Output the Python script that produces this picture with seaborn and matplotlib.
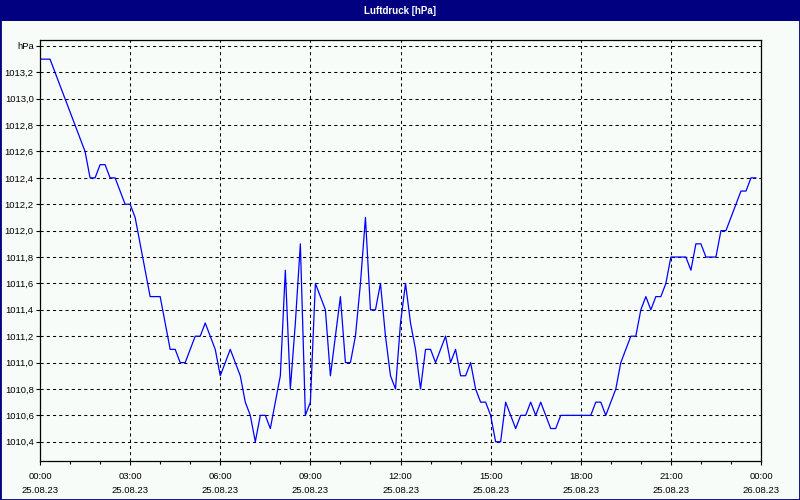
import numpy as np
import pandas as pd
import matplotlib
matplotlib.use("Agg")
import matplotlib.pyplot as plt
import matplotlib.dates as mdates
from matplotlib.patches import Rectangle
from matplotlib.ticker import FixedLocator, FixedFormatter
import seaborn as sns

# ---- data -------------------------------------------------------------
title_text = "Luftdruck [hPa]"
unit_label = "hPa"
start_time = "2023-08-25 00:00"
end_time = "2023-08-26 00:00"
sample_freq = "10min"

pressure_hpa = [
    1013.3, 1013.3, 1013.3, 1013.2, 1013.1, 1013.0, 1012.9, 1012.8, 1012.7, 1012.6,
    1012.4, 1012.4, 1012.5, 1012.5, 1012.4, 1012.4, 1012.3, 1012.2, 1012.2, 1012.1,
    1011.9, 1011.7, 1011.5, 1011.5, 1011.5, 1011.3, 1011.1, 1011.1, 1011.0, 1011.0,
    1011.1, 1011.2, 1011.2, 1011.3, 1011.2, 1011.1, 1010.9, 1011.0, 1011.1, 1011.0,
    1010.9, 1010.7, 1010.6, 1010.4, 1010.6, 1010.6, 1010.5, 1010.7, 1010.9, 1011.7,
    1010.8, 1011.3, 1011.9, 1010.6, 1010.7, 1011.6, 1011.5, 1011.4, 1010.9, 1011.2,
    1011.5, 1011.0, 1011.0, 1011.2, 1011.6, 1012.1, 1011.4, 1011.4, 1011.6, 1011.2,
    1010.9, 1010.8, 1011.3, 1011.6, 1011.3, 1011.1, 1010.8, 1011.1, 1011.1, 1011.0,
    1011.1, 1011.2, 1011.0, 1011.1, 1010.9, 1010.9, 1011.0, 1010.8, 1010.7, 1010.7,
    1010.6, 1010.4, 1010.4, 1010.7, 1010.6, 1010.5, 1010.6, 1010.6, 1010.7, 1010.6,
    1010.7, 1010.6, 1010.5, 1010.5, 1010.6, 1010.6, 1010.6, 1010.6, 1010.6, 1010.6,
    1010.6, 1010.7, 1010.7, 1010.6, 1010.7, 1010.8, 1011.0, 1011.1, 1011.2, 1011.2,
    1011.4, 1011.5, 1011.4, 1011.5, 1011.5, 1011.6, 1011.8, 1011.8, 1011.8, 1011.8,
    1011.7, 1011.9, 1011.9, 1011.8, 1011.8, 1011.8, 1012.0, 1012.0, 1012.1, 1012.2,
    1012.3, 1012.3, 1012.4, 1012.4,
]
y_ticks = [1010.4, 1010.6, 1010.8, 1011.0, 1011.2, 1011.4, 1011.6, 1011.8,
           1012.0, 1012.2, 1012.4, 1012.6, 1012.8, 1013.0, 1013.2, 1013.4]
y_limits = (1010.254, 1013.445)

# ---- styling ------------------------------------------------------------
BG = "#F8FCF8"
NAVY = "#000080"
LINE = "#0000FF"

sns.set_theme(style="white")
plt.rcParams["font.family"] = ["Liberation Sans", "DejaVu Sans"]
plt.rcParams["axes.facecolor"] = BG
plt.rcParams["figure.facecolor"] = BG

times = pd.date_range(start_time, periods=len(pressure_hpa), freq=sample_freq)
df = pd.DataFrame({"time": times, "pressure": pressure_hpa})

fig = plt.figure(figsize=(8, 5), dpi=100)
ax = fig.add_axes([40 / 800, 1 - 461 / 500, (761 - 40) / 800, (461 - 40) / 500])

sns.lineplot(data=df, x="time", y="pressure", color=LINE, linewidth=0.9, ax=ax)

ax.set_xlim(pd.Timestamp(start_time), pd.Timestamp(end_time))
ax.set_ylim(*y_limits)
ax.set_xlabel("")
ax.set_ylabel("")

# x axis ticks
ax.xaxis.set_major_locator(mdates.HourLocator(byhour=range(0, 24, 3)))
ax.xaxis.set_minor_locator(mdates.HourLocator())
ax.xaxis.set_major_formatter(mdates.DateFormatter("%H:%M\n%d.%m.%y"))
for lab in ax.get_xticklabels():
    lab.set_linespacing(1.75)

# y axis ticks
ylabels = [f"{v:.1f}".replace(".", ",") for v in y_ticks]
ylabels[-1] = unit_label
ax.yaxis.set_major_locator(FixedLocator(y_ticks))
ax.yaxis.set_major_formatter(FixedFormatter(ylabels))

ax.tick_params(axis="x", which="major", direction="out", length=3, width=0.8,
               color="black", labelsize=6.8, pad=5, bottom=True)
ax.tick_params(axis="x", which="minor", direction="out", length=2, width=0.8,
               color="black", bottom=True)
ax.tick_params(axis="y", which="major", direction="out", length=3, width=0.8,
               color="black", labelsize=6.8, pad=1.5, left=True)
for lab in ax.get_xticklabels() + ax.get_yticklabels():
    lab.set_color("black")
for lab in ax.get_xticklabels():
    lab.set_linespacing(1.75)

ax.grid(True, which="major", color="black", linestyle=(0, (3, 3)), linewidth=0.75)
ax.set_axisbelow(True)
for sp in ax.spines.values():
    sp.set_visible(True)
    sp.set_color("black")
    sp.set_linewidth(0.9)

# title bar and border
fig.patches.append(Rectangle((0, 1 - 21 / 500), 1, 21 / 500, transform=fig.transFigure,
                             facecolor=NAVY, edgecolor="none", zorder=0))
fig.text(0.5, 1 - 10.5 / 500, title_text, color="white", fontsize=7,
         fontweight="bold", ha="center", va="center")
fig.patches.append(Rectangle((0, 0), 1, 1, transform=fig.transFigure, fill=False,
                             edgecolor=NAVY, linewidth=2, zorder=5))

fig.savefig("out.png", dpi=100, facecolor=BG)
